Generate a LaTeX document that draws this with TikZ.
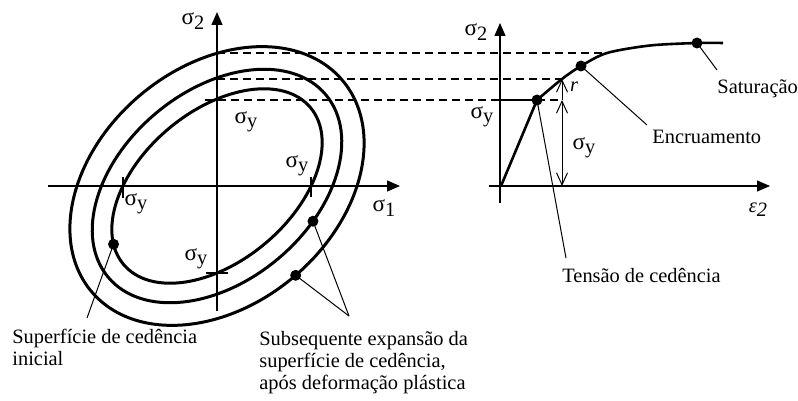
\documentclass[tikz,border=0pt]{standalone}
\usepackage{fontspec}
\setmainfont{Liberation Serif}
\usetikzlibrary{arrows.meta, calc}
\newcommand{\sgm}[1]{{\fontsize{11.6}{11.6}\selectfont σ}\raisebox{-0.45ex}{#1}}

\begin{document}
\begin{tikzpicture}[
  x=0.5pt, y=-0.5pt,
  every node/.style={font=\fontsize{10.2}{11}\selectfont, inner sep=0pt},
  axis/.style={line width=0.6pt, -{Triangle[length=6.5pt,width=5.5pt]}},
  surf/.style={line width=1.5pt},
  curve/.style={line width=1.3pt},
  guide/.style={line width=0.6pt, dash pattern=on 4pt off 2.5pt},
  pin/.style={line width=0.5pt},
  tick/.style={line width=0.6pt},
  barb/.style={line width=0.5pt},
  dot/.style={circle, fill, minimum size=5.5pt},
  caption/.style={align=left, anchor=base west}
]
\useasboundingbox (0,0) rectangle (798,401);
% left: yield surfaces
\coordinate (O) at (217,186);
\draw[axis] (48,186) -- (400,186);
\draw[axis] (217,311) -- (217,12);
\begin{scope}[shift={(O)}, rotate=40]
  \draw[surf] (0,0) ellipse [x radius=122, y radius=75];
  \draw[surf] (0,0) ellipse [x radius=142, y radius=95];
  \draw[surf] (0,0) ellipse [x radius=164, y radius=119];
  \coordinate (p1) at ({122*cos(163)},{-75*sin(163)});
  \coordinate (p2) at ({142*cos(291)},{-95*sin(291)});
  \coordinate (p3) at ({164*cos(271)},{-119*sin(271)});
\end{scope}
\draw[tick] (123,177) -- (123,198);
\draw[tick] (311,177) -- (311,197);
\draw[tick] (206,273) -- (228,273);
\node[dot] (ini)  at (p1) {};
\node[dot] (exp1) at (p2) {};
\node[dot] (exp2) at (p3) {};

\node (s2a) at (193,21)  {\sgm{2}};
\node (s1)  at (384,208) {\sgm{1}};
\node (syt) at (246,122) {\sgm{y}};
\node (syr) at (297,166) {\sgm{y}};
\node (syl) at (136,204) {\sgm{y}};
\node (syb) at (196,259) {\sgm{y}};

% right: hardening curve
\coordinate (R) at (500,186);
\draw[axis] (489,186) -- (770,186);
\draw[axis] (500,203) -- (500,23);
\coordinate (yld) at (537,100);
\coordinate (rtop) at (562,79);
\coordinate (rbot) at (562,100);
\coordinate (top) at (607,53);
\draw[curve] (501,186) -- (yld)
  plot[smooth] coordinates {(537,100) (562,79) (581,66) (607,53) (650,45.5) (697,43) (723,43)};
\node[dot] (yp) at (yld) {};
\node[dot] (hp) at (581,66) {};
\node[dot] (sp) at (697,43) {};

% guide lines
\draw[guide] (217,53) -- (top);
\draw[guide] (217,79) -- (rtop);
\draw[guide] (205,100) -- (498,100);
\draw[tick] (498,100) -- (yld);
\draw[guide] (yld) -- (rbot);

\draw[barb, {Straight Barb[length=6pt,width=5.5pt]}-{Straight Barb[length=6pt,width=5.5pt]}]
  (562,186) -- (rbot);
\draw[barb, -{Straight Barb[length=6pt,width=5.5pt]}] (rbot) -- (rtop);

\node (s2b) at (476,32)  {\sgm{2}};
\node (syc) at (482,117) {\sgm{y}};
\node (syd) at (584,148) {\sgm{y}};
\node (r)   at (574,87)  {\textit{r}};
\node (e2)  at (758,210) {\textit{ε\raisebox{-0.45ex}{2}}};

% captions (base is the last line)
\node[caption] (cini) at (12,365) {Superfície de cedência\\inicial};
\node[caption] (cexp) at (259,389) {Subsequente expansão da\\superfície de cedência,\\após deformação plástica};
\node[caption] (ctens) at (562,282) {Tensão de cedência};
\node[caption] (cenc)  at (652,144) {Encruamento};
\node[caption] (csat)  at (717,94)  {Saturação};

\draw[pin] (ini.center)  -- (87,318);
\draw[pin] (exp1.center) -- (349,316);
\draw[pin] (exp2.center) -- (349,316);
\draw[pin] (yp.center) -- (566,258);
\draw[pin] (hp.center) -- (647,125);
\draw[pin] (sp.center) -- (717,70);
\end{tikzpicture}
\end{document}
